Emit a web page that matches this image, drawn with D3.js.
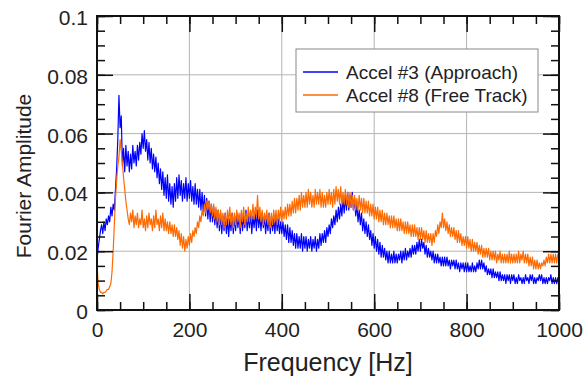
<!DOCTYPE html>
<html>
<head>
<meta charset="utf-8">
<script src="https://cdn.jsdelivr.net/npm/d3@7"></script>
<style>
  body { margin: 0; background: #fff; }
  text { font-family: "Liberation Sans", Arial, sans-serif; fill: #222; }
</style>
</head>
<body>
<div id="chart"></div>
<script>
// spectra are sampled every 2.5 Hz from 0 to 1000 Hz (one row = 50 Hz)
const freqStep = 2.5;

// Accel #3 (Approach), Fourier amplitude
const accel3 = [
  0.017, 0.021, 0.024, 0.027, 0.029, 0.026, 0.030, 0.027, 0.031, 0.029, 0.032, 0.030, 0.035, 0.032, 0.036, 0.034, 0.041, 0.048, 0.058, 0.073,
  0.062, 0.066, 0.049, 0.055, 0.047, 0.056, 0.049, 0.054, 0.047, 0.053, 0.048, 0.056, 0.050, 0.054, 0.049, 0.056, 0.051, 0.057, 0.053, 0.060,
  0.055, 0.061, 0.054, 0.058, 0.051, 0.057, 0.050, 0.055, 0.048, 0.053, 0.047, 0.052, 0.045, 0.050, 0.043, 0.048, 0.041, 0.047, 0.039, 0.045,
  0.038, 0.046, 0.037, 0.043, 0.036, 0.042, 0.035, 0.043, 0.037, 0.045, 0.038, 0.046, 0.039, 0.044, 0.037, 0.043, 0.038, 0.045, 0.037, 0.043,
  0.038, 0.044, 0.037, 0.042, 0.036, 0.043, 0.036, 0.041, 0.035, 0.041, 0.034, 0.040, 0.033, 0.039, 0.032, 0.038, 0.031, 0.037, 0.030, 0.036,
  0.030, 0.035, 0.029, 0.034, 0.028, 0.034, 0.027, 0.033, 0.026, 0.032, 0.027, 0.033, 0.026, 0.031, 0.025, 0.031, 0.027, 0.033, 0.026, 0.032,
  0.027, 0.033, 0.028, 0.032, 0.026, 0.033, 0.027, 0.032, 0.028, 0.034, 0.027, 0.032, 0.028, 0.033, 0.026, 0.032, 0.028, 0.033, 0.027, 0.034,
  0.028, 0.032, 0.027, 0.033, 0.028, 0.032, 0.026, 0.031, 0.027, 0.033, 0.026, 0.032, 0.027, 0.031, 0.026, 0.032, 0.027, 0.031, 0.026, 0.030,
  0.026, 0.030, 0.025, 0.029, 0.024, 0.029, 0.023, 0.028, 0.023, 0.027, 0.022, 0.026, 0.021, 0.026, 0.021, 0.025, 0.021, 0.026, 0.020, 0.025,
  0.021, 0.025, 0.020, 0.024, 0.021, 0.025, 0.020, 0.024, 0.021, 0.025, 0.020, 0.024, 0.021, 0.026, 0.022, 0.026, 0.023, 0.027, 0.023, 0.028,
  0.025, 0.029, 0.026, 0.031, 0.028, 0.032, 0.029, 0.034, 0.030, 0.035, 0.031, 0.036, 0.032, 0.038, 0.033, 0.039, 0.034, 0.040, 0.034, 0.039,
  0.035, 0.040, 0.034, 0.038, 0.032, 0.036, 0.030, 0.034, 0.029, 0.033, 0.027, 0.031, 0.026, 0.030, 0.025, 0.029, 0.024, 0.027, 0.022, 0.026,
  0.021, 0.025, 0.020, 0.024, 0.019, 0.023, 0.018, 0.022, 0.018, 0.021, 0.017, 0.020, 0.016, 0.020, 0.016, 0.019, 0.016, 0.020, 0.016, 0.019,
  0.016, 0.019, 0.017, 0.020, 0.016, 0.020, 0.017, 0.021, 0.017, 0.020, 0.018, 0.021, 0.018, 0.022, 0.019, 0.022, 0.019, 0.023, 0.020, 0.024,
  0.020, 0.024, 0.021, 0.023, 0.019, 0.022, 0.018, 0.021, 0.018, 0.020, 0.017, 0.020, 0.016, 0.019, 0.016, 0.019, 0.016, 0.018, 0.015, 0.018,
  0.015, 0.018, 0.015, 0.018, 0.015, 0.017, 0.014, 0.017, 0.015, 0.017, 0.014, 0.017, 0.014, 0.016, 0.013, 0.016, 0.014, 0.016, 0.013, 0.016,
  0.013, 0.016, 0.013, 0.015, 0.013, 0.016, 0.013, 0.015, 0.013, 0.016, 0.014, 0.017, 0.014, 0.017, 0.014, 0.016, 0.013, 0.015, 0.012, 0.014,
  0.012, 0.014, 0.011, 0.014, 0.011, 0.013, 0.011, 0.013, 0.010, 0.013, 0.010, 0.012, 0.010, 0.012, 0.009, 0.012, 0.010, 0.012, 0.009, 0.012,
  0.010, 0.012, 0.009, 0.011, 0.009, 0.012, 0.010, 0.011, 0.009, 0.011, 0.009, 0.012, 0.010, 0.011, 0.009, 0.012, 0.010, 0.012, 0.009, 0.011,
  0.009, 0.011, 0.010, 0.012, 0.010, 0.012, 0.009, 0.011, 0.009, 0.011, 0.009, 0.011, 0.010, 0.012, 0.009, 0.011, 0.009, 0.011, 0.009, 0.011,
  0.010
];

// Accel #8 (Free Track), Fourier amplitude
const accel8 = [
  0.016, 0.009, 0.007, 0.006, 0.006, 0.0055, 0.006, 0.006, 0.0065, 0.007, 0.007, 0.008, 0.009, 0.013, 0.020, 0.029, 0.038, 0.044, 0.049, 0.052,
  0.058, 0.054, 0.050, 0.045, 0.041, 0.037, 0.034, 0.031, 0.029, 0.033, 0.030, 0.034, 0.028, 0.032, 0.029, 0.033, 0.028, 0.031, 0.029, 0.034,
  0.028, 0.031, 0.027, 0.032, 0.028, 0.033, 0.029, 0.031, 0.027, 0.032, 0.028, 0.034, 0.029, 0.031, 0.027, 0.032, 0.028, 0.033, 0.027, 0.031,
  0.027, 0.030, 0.026, 0.030, 0.026, 0.029, 0.025, 0.029, 0.025, 0.028, 0.024, 0.027, 0.022, 0.026, 0.021, 0.025, 0.020, 0.024, 0.021, 0.025,
  0.022, 0.026, 0.023, 0.027, 0.025, 0.028, 0.026, 0.030, 0.028, 0.032, 0.030, 0.034, 0.032, 0.036, 0.033, 0.037, 0.034, 0.037, 0.033, 0.036,
  0.032, 0.036, 0.031, 0.035, 0.030, 0.034, 0.029, 0.034, 0.029, 0.033, 0.028, 0.033, 0.029, 0.034, 0.030, 0.035, 0.029, 0.033, 0.028, 0.033,
  0.029, 0.034, 0.030, 0.033, 0.028, 0.034, 0.030, 0.035, 0.029, 0.033, 0.030, 0.035, 0.030, 0.034, 0.031, 0.036, 0.031, 0.035, 0.032, 0.039,
  0.031, 0.035, 0.030, 0.034, 0.029, 0.033, 0.030, 0.034, 0.029, 0.033, 0.028, 0.033, 0.029, 0.034, 0.030, 0.034, 0.029, 0.034, 0.030, 0.035,
  0.030, 0.034, 0.031, 0.035, 0.031, 0.036, 0.032, 0.036, 0.032, 0.037, 0.033, 0.038, 0.033, 0.038, 0.034, 0.039, 0.034, 0.040, 0.035, 0.039,
  0.035, 0.040, 0.035, 0.041, 0.036, 0.040, 0.035, 0.039, 0.035, 0.041, 0.036, 0.040, 0.036, 0.041, 0.035, 0.040, 0.035, 0.039, 0.035, 0.040,
  0.036, 0.041, 0.036, 0.040, 0.035, 0.041, 0.036, 0.042, 0.037, 0.041, 0.036, 0.042, 0.036, 0.040, 0.036, 0.041, 0.036, 0.040, 0.035, 0.040,
  0.035, 0.039, 0.034, 0.039, 0.034, 0.038, 0.034, 0.039, 0.034, 0.038, 0.033, 0.038, 0.033, 0.037, 0.033, 0.037, 0.032, 0.036, 0.032, 0.036,
  0.031, 0.035, 0.031, 0.035, 0.030, 0.034, 0.030, 0.034, 0.029, 0.033, 0.029, 0.033, 0.029, 0.032, 0.028, 0.032, 0.028, 0.032, 0.028, 0.031,
  0.027, 0.031, 0.027, 0.031, 0.027, 0.030, 0.026, 0.030, 0.026, 0.030, 0.026, 0.029, 0.025, 0.029, 0.025, 0.029, 0.025, 0.028, 0.024, 0.028,
  0.024, 0.028, 0.024, 0.027, 0.023, 0.027, 0.023, 0.026, 0.023, 0.026, 0.022, 0.026, 0.023, 0.027, 0.025, 0.029, 0.026, 0.030, 0.028, 0.033,
  0.028, 0.031, 0.027, 0.030, 0.026, 0.029, 0.025, 0.028, 0.025, 0.028, 0.024, 0.027, 0.023, 0.027, 0.023, 0.026, 0.022, 0.025, 0.022, 0.025,
  0.021, 0.025, 0.021, 0.024, 0.020, 0.024, 0.020, 0.023, 0.020, 0.023, 0.019, 0.022, 0.019, 0.022, 0.018, 0.021, 0.018, 0.021, 0.018, 0.021,
  0.017, 0.020, 0.017, 0.020, 0.017, 0.020, 0.016, 0.019, 0.017, 0.020, 0.016, 0.019, 0.016, 0.019, 0.016, 0.019, 0.016, 0.020, 0.016, 0.019,
  0.016, 0.019, 0.016, 0.019, 0.016, 0.020, 0.016, 0.019, 0.017, 0.020, 0.016, 0.019, 0.016, 0.019, 0.015, 0.018, 0.015, 0.018, 0.014, 0.017,
  0.014, 0.017, 0.014, 0.016, 0.014, 0.016, 0.015, 0.017, 0.015, 0.018, 0.016, 0.019, 0.016, 0.019, 0.016, 0.019, 0.016, 0.019, 0.016, 0.019,
  0.017
];

const seriesNames = ["Accel #3 (Approach)", "Accel #8 (Free Track)"];
const seriesColors = ["#0000ff", "#ff6a00"];

const xMajor = [0, 200, 400, 600, 800, 1000];
const yMajor = [0, 0.02, 0.04, 0.06, 0.08, 0.1];

const W = 583, H = 378;
const margin = {top: 16, right: 24, bottom: 68, left: 97},
      width = W - margin.left - margin.right,
      height = H - margin.top - margin.bottom;

const svg = d3.select("#chart").append("svg")
    .attr("width", W).attr("height", H);
const g = svg.append("g")
    .attr("transform", `translate(${margin.left},${margin.top})`);

const x = d3.scaleLinear().domain([0, 1000]).range([0, width]);
const y = d3.scaleLinear().domain([0, 0.1]).range([height, 0]);

// grid lines at the major ticks
g.append("g")
  .selectAll("line")
  .data(xMajor.slice(1, -1))
  .enter().append("line")
    .attr("x1", d => x(d)).attr("x2", d => x(d))
    .attr("y1", 0).attr("y2", height)
    .attr("stroke", "#b4b4b4").attr("stroke-width", 1);
g.append("g")
  .selectAll("line")
  .data(yMajor.slice(1, -1))
  .enter().append("line")
    .attr("x1", 0).attr("x2", width)
    .attr("y1", d => y(d)).attr("y2", d => y(d))
    .attr("stroke", "#b4b4b4").attr("stroke-width", 1);

// curves
const line = d3.line()
  .x((d, i) => x(i * freqStep))
  .y(d => y(d));

[accel3, accel8].forEach((s, k) => {
  g.append("path")
    .datum(s)
    .attr("fill", "none")
    .attr("stroke", seriesColors[k])
    .attr("stroke-width", 1.2)
    .attr("stroke-linejoin", "round")
    .attr("d", line);
});

// axes, ticks pointing inward on all four sides
const xMinor = d3.range(0, 1001, 50);
const yMinor = d3.range(0, 0.1001, 0.005);

function styleAxis(a) {
  a.select(".domain").remove();
  a.selectAll(".tick line").attr("stroke", "#111").attr("stroke-width", 1.5);
}

g.append("g").attr("transform", `translate(0,${height})`)
  .call(d3.axisBottom(x).tickValues(xMinor).tickSize(-8).tickFormat(""))
  .call(styleAxis);
g.append("g").attr("transform", `translate(0,${height})`)
  .call(d3.axisBottom(x).tickValues(xMajor).tickSize(-16).tickPadding(12).tickFormat(d3.format("d")))
  .call(styleAxis)
  .selectAll("text").style("font-size", "21px").attr("fill", "#222");

g.append("g")
  .call(d3.axisTop(x).tickValues(xMinor).tickSize(-8).tickFormat(""))
  .call(styleAxis);
g.append("g")
  .call(d3.axisTop(x).tickValues(xMajor).tickSize(-16).tickFormat(""))
  .call(styleAxis);

g.append("g")
  .call(d3.axisLeft(y).tickValues(yMinor).tickSize(-8).tickFormat(""))
  .call(styleAxis);
g.append("g")
  .call(d3.axisLeft(y).tickValues(yMajor).tickSize(-16).tickPadding(9).tickFormat(d => d === 0 ? "0" : d3.format("")(d)))
  .call(styleAxis)
  .selectAll("text").style("font-size", "21px").attr("fill", "#222").attr("dy", "0.4em");

g.append("g").attr("transform", `translate(${width},0)`)
  .call(d3.axisRight(y).tickValues(yMinor).tickSize(-8).tickFormat(""))
  .call(styleAxis);
g.append("g").attr("transform", `translate(${width},0)`)
  .call(d3.axisRight(y).tickValues(yMajor).tickSize(-16).tickFormat(""))
  .call(styleAxis);

// frame
g.append("rect")
  .attr("width", width).attr("height", height)
  .attr("fill", "none").attr("stroke", "#111").attr("stroke-width", 2);

// axis titles
svg.append("text")
  .attr("x", margin.left + width / 2).attr("y", 371)
  .attr("text-anchor", "middle")
  .style("font-size", "25px")
  .text("Frequency [Hz]");
svg.append("text")
  .attr("transform", "translate(31,176) rotate(-90)")
  .attr("text-anchor", "middle")
  .style("font-size", "21px")
  .text("Fourier Amplitude");

// legend
const legend = svg.append("g").attr("transform", "translate(296,49)");
legend.append("rect")
  .attr("width", 242).attr("height", 63)
  .attr("fill", "#fff").attr("stroke", "#888").attr("stroke-width", 1);
seriesNames.forEach((name, i) => {
  const ly = 23 + i * 23;
  legend.append("line")
    .attr("x1", 7).attr("x2", 42).attr("y1", ly).attr("y2", ly)
    .attr("stroke", seriesColors[i]).attr("stroke-width", 1.3);
  legend.append("text")
    .attr("x", 50).attr("y", ly + 7)
    .style("font-size", "19px")
    .text(name);
});
</script>
</body>
</html>
